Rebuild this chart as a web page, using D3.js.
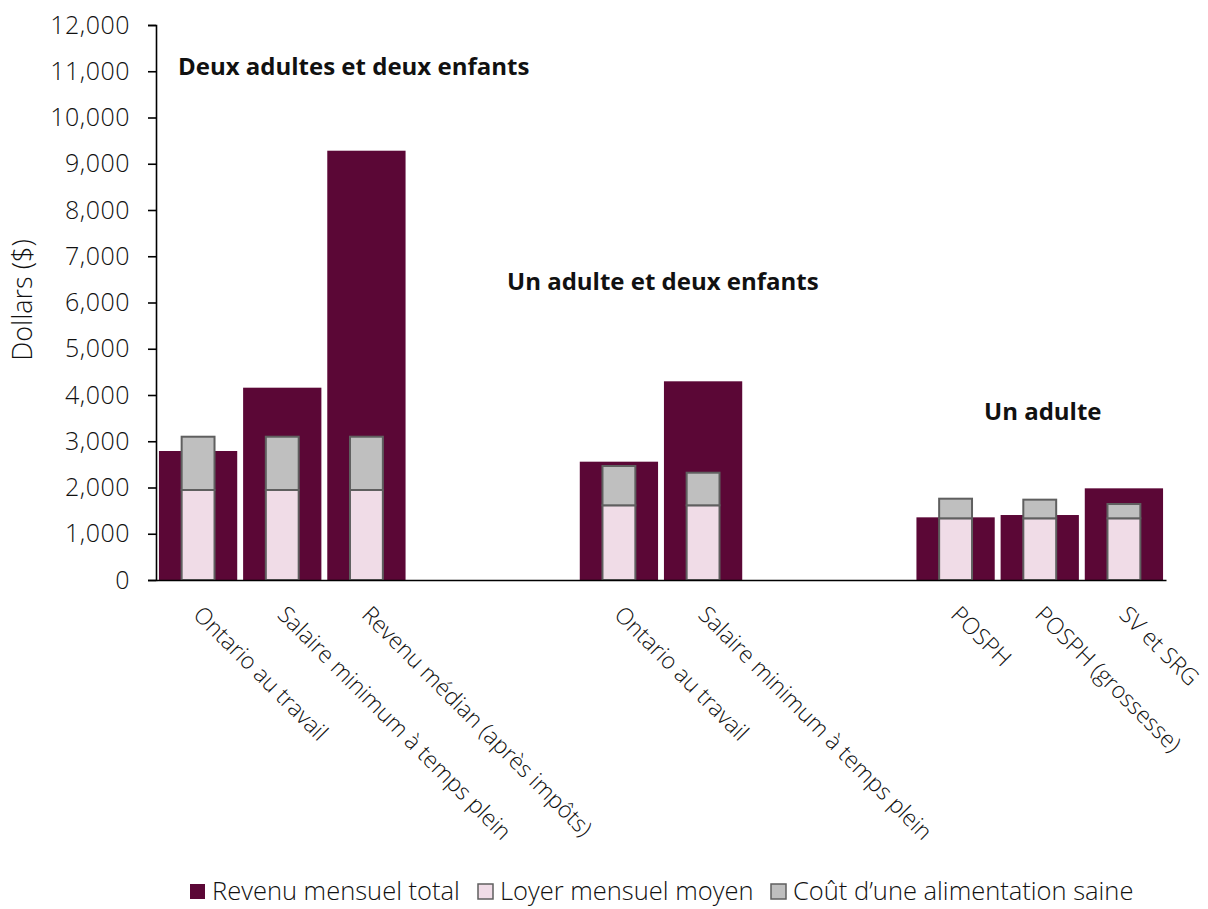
<!DOCTYPE html>
<html><head><meta charset="utf-8">
<script src="https://cdn.jsdelivr.net/npm/d3@7"></script>
<style>
body{margin:0;background:#fff;}
svg{display:block;}
text{font-family:"Open Sans","Noto Sans",sans-serif;fill:#111;}
</style></head>
<body><svg id="c" width="1208" height="909"></svg>
<script>
const categories = ["Ontario au travail","Salaire minimum à temps plein","Revenu médian (après impôts)","","","Ontario au travail","Salaire minimum à temps plein","","","POSPH","POSPH (grossesse)","SV et SRG"];
const revenu = [2789, 4158, 9282, null, null, 2558, 4296, null, null, 1355, 1405, 1982];
const loyer  = [1946, 1946, 1946, null, null, 1615, 1615, null, null, 1334, 1334, 1334];
const aliment= [1152, 1152, 1152, null, null, 850, 705, null, null, 424, 403, 309];
const yTicks = [0,1000,2000,3000,4000,5000,6000,7000,8000,9000,10000,11000,12000];
const groupTitles = [
  {text:"Deux adultes et deux enfants", x:178, y:75},
  {text:"Un adulte et deux enfants", x:507, y:290},
  {text:"Un adulte", x:984, y:420}
];
const legendItems = ["Revenu mensuel total","Loyer mensuel moyen","Coût d’une alimentation saine"];

const C_DARK="#5B0736", C_PINK="#F0DCE7", C_GRAY="#BFBFBF", C_EDGE="#5f5f5f";
const svg = d3.select("#c");
const L=156, R=1166, T=25, B=580;
const keys = categories.map((d,i)=>"k"+i);
const x = d3.scaleBand().domain(keys).range([L,R]).paddingInner(0.07).paddingOuter(0.035);
const y = d3.scaleLinear().domain([0,12000]).range([B,T]);

// y axis
const yAxis = d3.axisLeft(y).tickValues(yTicks).tickFormat(d3.format(",")).tickSize(8).tickPadding(18);
const gy = svg.append("g").attr("transform",`translate(${L},0)`).call(yAxis);
gy.select(".domain").attr("stroke","#000").attr("stroke-width",1.6);
gy.selectAll(".tick line").attr("stroke","#000").attr("stroke-width",1.6);
gy.selectAll(".tick text").style("font-size","25px").style("font-weight",300).style("letter-spacing","0.5px")
  .attr("fill","#111").attr("font-family",null);

svg.append("text").attr("transform","translate(32,300) rotate(-90)").attr("text-anchor","middle")
  .style("font-size","27px").style("font-weight",300).text("Dollars ($)");

const data = categories.map((c,i)=>({k:keys[i],c,rev:revenu[i],loy:loyer[i],ali:aliment[i]})).filter(d=>d.rev!=null);

// outer bars
svg.append("g").selectAll("rect").data(data).join("rect")
  .attr("x",d=>x(d.k)).attr("width",x.bandwidth())
  .attr("y",d=>y(d.rev)).attr("height",d=>y(0)-y(d.rev)).attr("fill",C_DARK);

const iw = x.bandwidth()*0.42;
const ix = d=>x(d.k)+(x.bandwidth()-iw)/2;
// rent
svg.append("g").selectAll("rect").data(data).join("rect")
  .attr("x",ix).attr("width",iw)
  .attr("y",d=>y(d.loy)).attr("height",d=>y(0)-y(d.loy))
  .attr("fill",C_PINK).attr("stroke",C_EDGE).attr("stroke-width",2);
// food
svg.append("g").selectAll("rect").data(data).join("rect")
  .attr("x",ix).attr("width",iw)
  .attr("y",d=>y(d.loy+d.ali)).attr("height",d=>y(d.loy)-y(d.loy+d.ali))
  .attr("fill",C_GRAY).attr("stroke",C_EDGE).attr("stroke-width",2);

// x axis line
const xAxis = d3.axisBottom(x).tickSize(0).tickFormat("");
const gx = svg.append("g").attr("transform",`translate(0,${B})`).call(xAxis);
gx.select(".domain").attr("stroke","#000").attr("stroke-width",1.6);

// category labels
svg.append("g").selectAll("text").data(data).join("text")
  .attr("transform",d=>`translate(${x(d.k)+x.bandwidth()/2-6},${B+36}) rotate(45)`)
  .style("font-size","23px").style("font-weight",300).text(d=>d.c);

// group titles
svg.append("g").selectAll("text").data(groupTitles).join("text")
  .attr("x",d=>d.x).attr("y",d=>d.y).style("font-size","24px").style("font-weight",700)
  .attr("fill","#000").text(d=>d.text);

// legend
const lg = svg.append("g");
const fills=[C_DARK,C_PINK,C_GRAY];
const lx=[190,478,771];
legendItems.forEach((t,i)=>{
  lg.append("rect").attr("x",lx[i]).attr("y",884).attr("width",15).attr("height",15)
    .attr("fill",fills[i]).attr("stroke",i===0?"none":C_EDGE).attr("stroke-width",1.5);
  lg.append("text").attr("x",lx[i]+22).attr("y",900).style("font-size","25.5px").style("font-weight",300).text(t);
});
</script></body></html>
